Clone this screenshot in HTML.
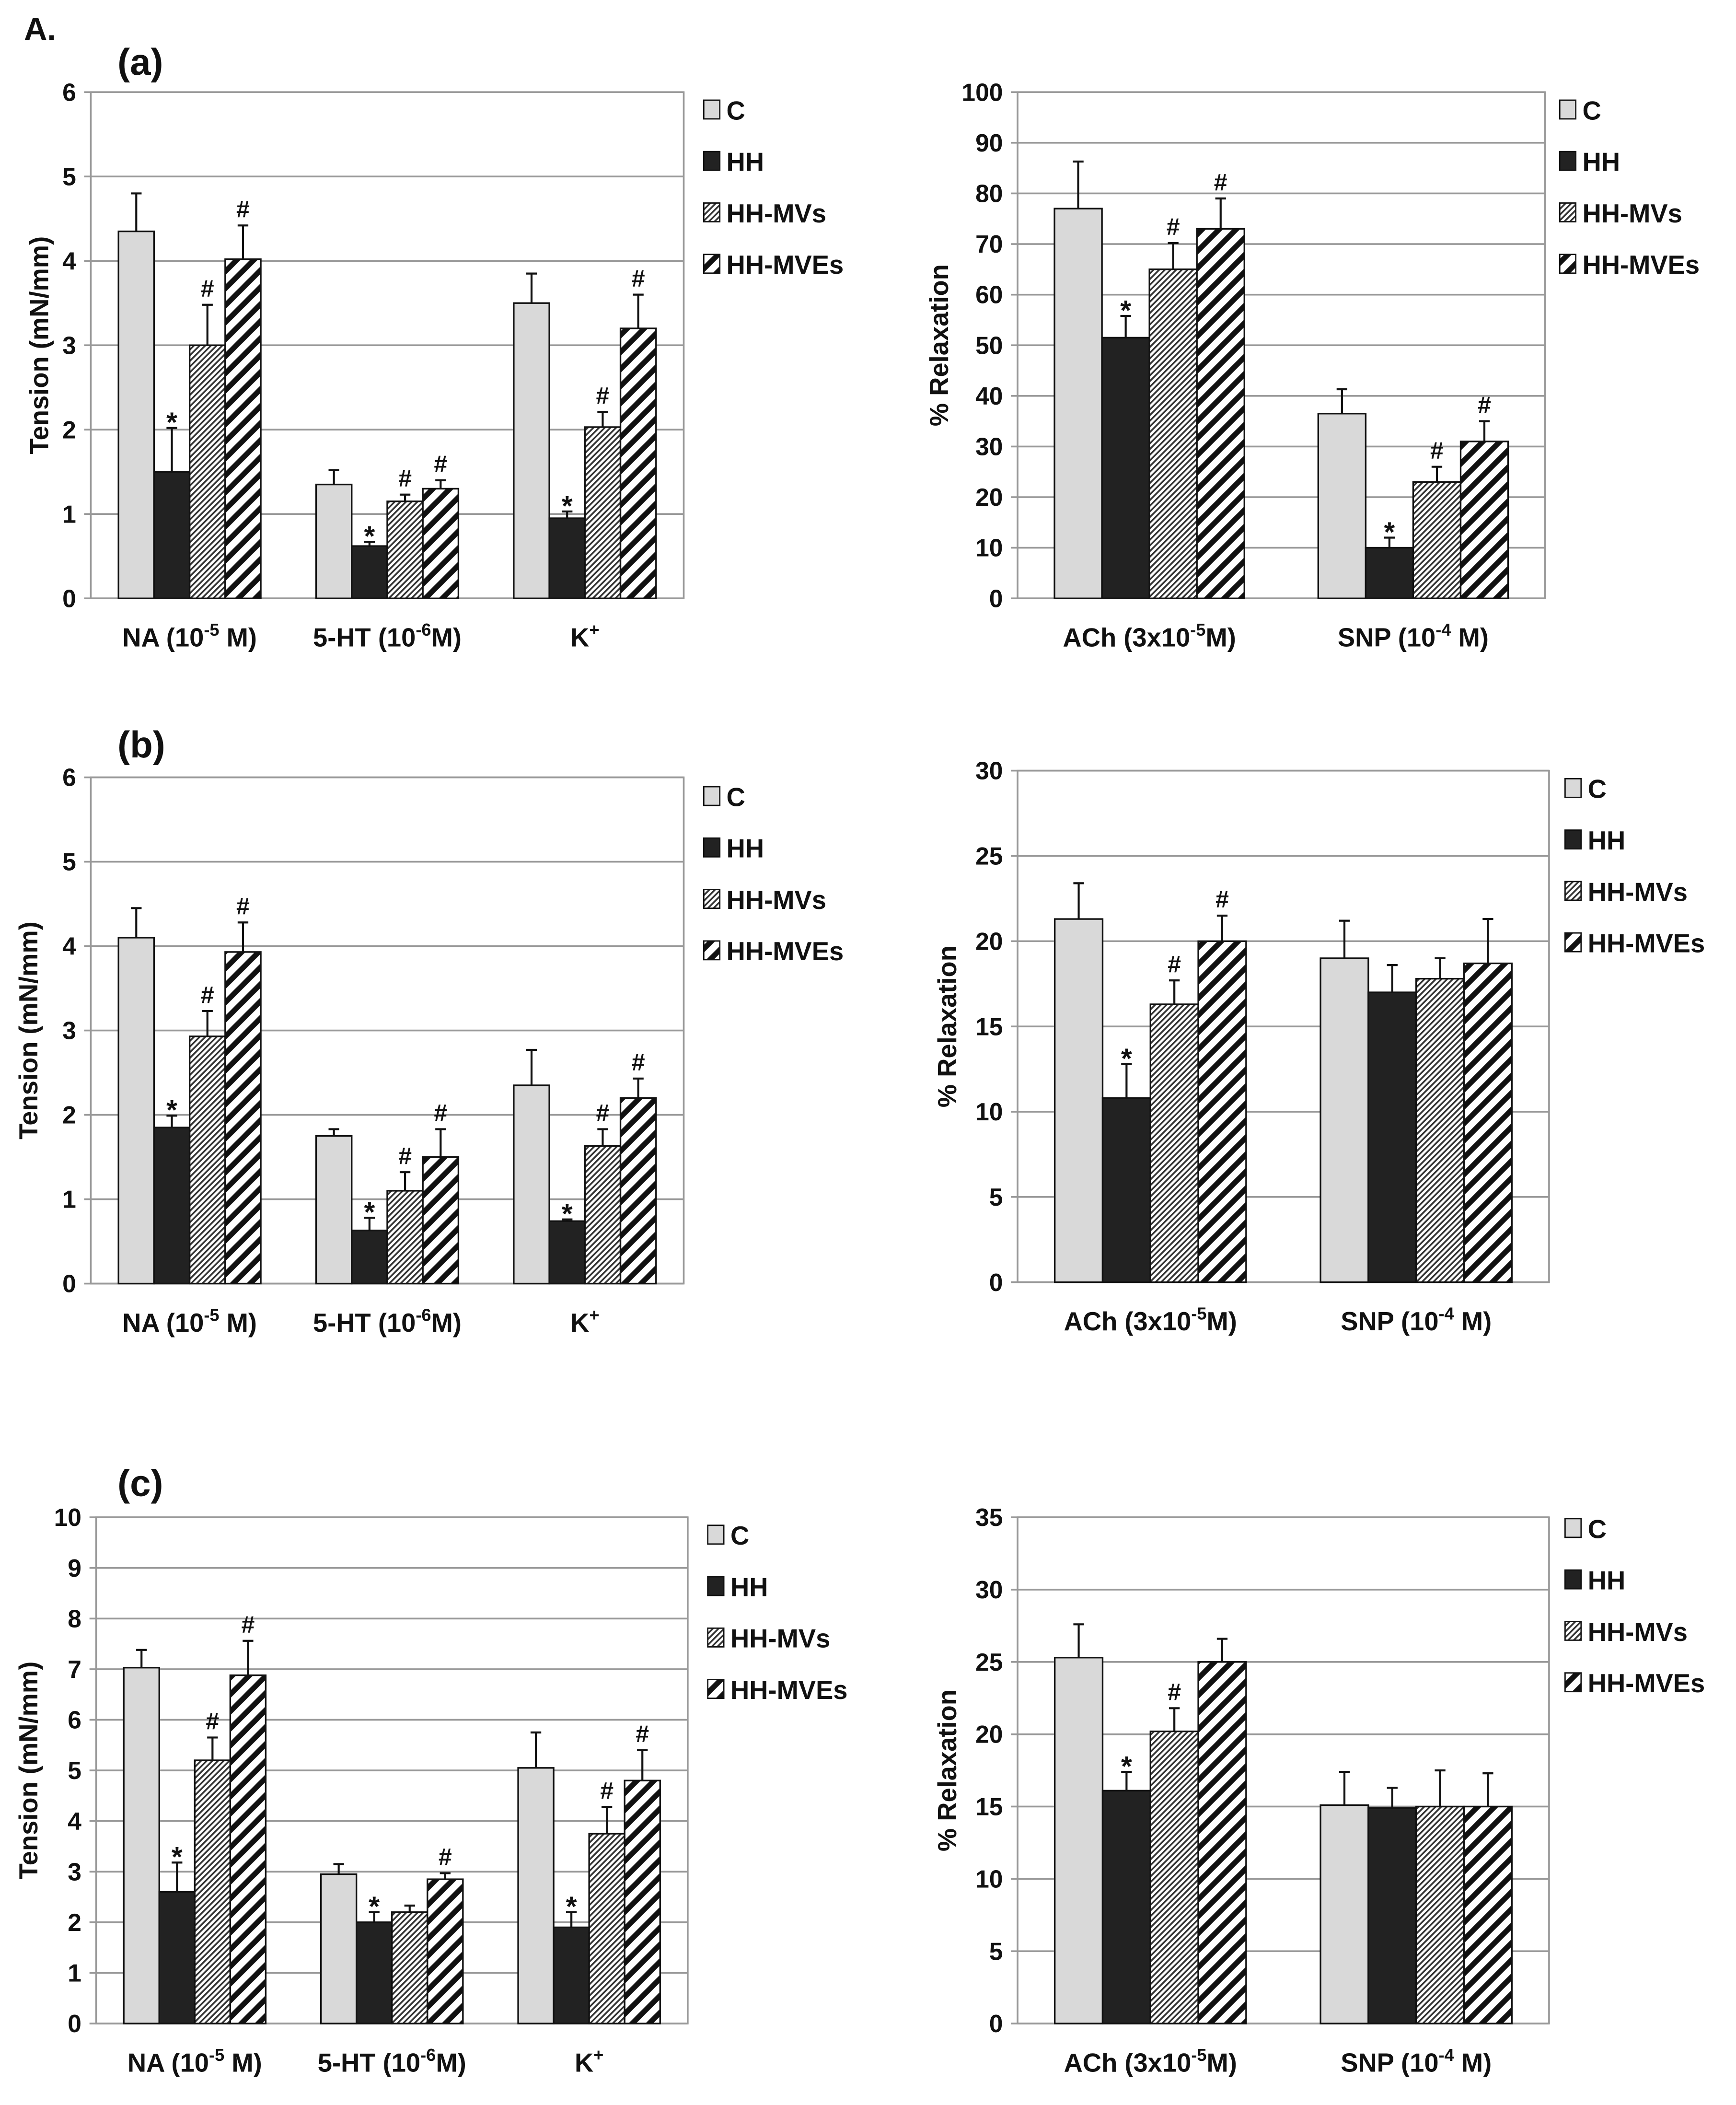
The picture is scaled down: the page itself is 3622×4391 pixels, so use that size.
<!DOCTYPE html>
<html><head><meta charset="utf-8">
<style>
html,body{margin:0;padding:0;background:#fff;}
svg{display:block;}
text{font-family:"Liberation Sans",sans-serif;font-weight:bold;fill:#111;}
</style></head>
<body>
<svg id="fig" xmlns="http://www.w3.org/2000/svg" width="3622" height="4391" viewBox="0 0 1300 1576" preserveAspectRatio="none">
<defs>
<pattern id="fineHatch" patternUnits="userSpaceOnUse" width="3" height="3" patternTransform="rotate(45)">
<rect width="3" height="3" fill="#fff"/><rect width="1.3" height="3" fill="#333"/>
</pattern>
<pattern id="thickHatch" patternUnits="userSpaceOnUse" width="9" height="9" patternTransform="rotate(45)">
<rect width="9" height="9" fill="#fff"/><rect width="4" height="9" fill="#111"/>
</pattern>
</defs>
<text x="18" y="30" font-size="24">A.</text>
<text x="88" y="56" font-size="28">(a)</text>
<text x="88" y="567" font-size="28">(b)</text>
<text x="88" y="1120" font-size="28">(c)</text>
</svg>
<script>
// ---- data ----
const seriesNames = ["C","HH","HH-MVs","HH-MVEs"];
const contractCats = ["NA","5-HT","K+"];
const relaxCats = ["ACh","SNP"];

const aL_C=[4.35,1.35,3.5], aL_Ce=[0.45,0.17,0.35];
const aL_HH=[1.5,0.62,0.95], aL_HHe=[0.52,0.05,0.08];
const aL_MV=[3.0,1.15,2.03], aL_MVe=[0.48,0.08,0.18];
const aL_ME=[4.02,1.3,3.2], aL_MEe=[0.4,0.1,0.4];
const aL_marks=[["","",""],["*","*","*"],["#","#","#"],["#","#","#"]];

const aR_C=[77,36.5], aR_Ce=[9.3,4.8];
const aR_HH=[51.5,10], aR_HHe=[4.3,2];
const aR_MV=[65,23], aR_MVe=[5.2,3];
const aR_ME=[73,31], aR_MEe=[6,4];
const aR_marks=[["",""],["*","*"],["#","#"],["#","#"]];

const bL_C=[4.1,1.75,2.35], bL_Ce=[0.35,0.08,0.42];
const bL_HH=[1.85,0.63,0.74], bL_HHe=[0.14,0.15,0.02];
const bL_MV=[2.93,1.1,1.63], bL_MVe=[0.3,0.22,0.2];
const bL_ME=[3.93,1.5,2.2], bL_MEe=[0.35,0.33,0.23];
const bL_marks=[["","",""],["*","*","*"],["#","#","#"],["#","#","#"]];

const bR_C=[21.3,19], bR_Ce=[2.1,2.2];
const bR_HH=[10.8,17], bR_HHe=[2,1.6];
const bR_MV=[16.3,17.8], bR_MVe=[1.4,1.2];
const bR_ME=[20,18.7], bR_MEe=[1.5,2.6];
const bR_marks=[["",""],["*",""],["#",""],["#",""]];

const cL_C=[7.03,2.95,5.05], cL_Ce=[0.35,0.2,0.7];
const cL_HH=[2.6,2.0,1.9], cL_HHe=[0.58,0.2,0.3];
const cL_MV=[5.2,2.2,3.75], cL_MVe=[0.45,0.13,0.53];
const cL_ME=[6.88,2.85,4.8], cL_MEe=[0.68,0.12,0.6];
const cL_marks=[["","",""],["*","*","*"],["#","","#"],["#","#","#"]];

const cR_C=[25.3,15.1], cR_Ce=[2.3,2.3];
const cR_HH=[16.1,14.9], cR_HHe=[1.3,1.4];
const cR_MV=[20.2,15], cR_MVe=[1.6,2.5];
const cR_ME=[25,15], cR_MEe=[1.6,2.3];
const cR_marks=[["",""],["*",""],["#",""],["",""]];

const tensionTicks6=[0,1,2,3,4,5,6];
const tensionTicks10=[0,1,2,3,4,5,6,7,8,9,10];
const relaxTicks100=[0,10,20,30,40,50,60,70,80,90,100];
const relaxTicks30=[0,5,10,15,20,25,30];
const relaxTicks35=[0,5,10,15,20,25,30,35];

// ---- drawing ----
const NS="http://www.w3.org/2000/svg";
const svg=document.getElementById('fig');
function mk(tag,attrs,parent){const e=document.createElementNS(NS,tag);for(const k in attrs)e.setAttribute(k,attrs[k]);(parent||svg).appendChild(e);return e;}
const fills=["#d9d9d9","#222","url(#fineHatch)","url(#thickHatch)"];

function xLabel(g,cat,cx,y){
  const t=mk('text',{x:cx,y:y,'font-size':19.5,'text-anchor':'middle'},g);
  
  
  const parts={ "NA":["NA (10","-5"," M)"], "5-HT":["5-HT (10","-6","M)"], "K+":["K","+",""],
    "ACh":["ACh (3x10","-5","M)"], "SNP":["SNP (10","-4"," M)"] }[cat];
  const a=mk('tspan',{},t);a.textContent=parts[0];
  const b=mk('tspan',{dy:-8,'font-size':13},t);b.textContent=parts[1];
  const c=mk('tspan',{dy:8},t);c.textContent=parts[2];
}

function chart(id,o){
  const g=mk('g',{});
  
  
  const {x0,x1,y0,y1,ticks,cats,series,errs,marks,title,legX,legY}=o;
  const vmax=ticks[ticks.length-1];
  const Y=v=>y1-(v/vmax)*(y1-y0);
  const catW=(x1-x0)/cats.length;
  const barW=catW*0.72/4;
  const X=(ci,si)=>x0+ci*catW+catW*0.14+si*barW;
  ticks.forEach(t=>{
    const l=mk('line',{x1:x0-5,x2:x1,y1:Y(t),y2:Y(t),stroke:'#999','stroke-width':1.3},g);
    
    
    const tx=mk('text',{x:x0-11,y:Y(t)+6.5,'font-size':18.5,'text-anchor':'end'},g);
    
    
    tx.textContent=t;
  });
  const frame=mk('rect',{x:x0,y:y0,width:x1-x0,height:y1-y0,fill:'none',stroke:'#999','stroke-width':1.3},g);
  
  
  cats.forEach((c,ci)=>{
    series.forEach((s,si)=>{
      const v=s[ci], e=errs[si][ci], bx=X(ci,si);
      const r=mk('rect',{x:bx,y:Y(v),width:barW,height:y1-Y(v),fill:fills[si],stroke:'#111','stroke-width':1.2},g);
      
      
      const cx=bx+barW/2, top=Y(v+e);
      const el=mk('path',{d:`M${cx},${Y(v)} V${top} M${cx-4},${top} H${cx+4}`,stroke:'#111','stroke-width':1.5,fill:'none'},g);
      
      
      const m=marks[si][ci];
      if(m){
        const mt=mk('text',{x:cx,y:top-(m==='*'?-3:6),'font-size':m==='*'?21:18,'text-anchor':'middle'},g);
        
        
        mt.textContent=m;
      }
    });
    xLabel(g,c,x0+ci*catW+catW/2,y1+36);
  });
  const cy=(y0+y1)/2;
  const yt=mk('text',{x:o.titleX,y:cy,'font-size':19.5,'text-anchor':'middle',transform:`rotate(-90 ${o.titleX} ${cy})`},g);
  
  
  yt.textContent=title;
  seriesNames.forEach((n,si)=>{
    const ly=legY+si*38.5;
    const b=mk('rect',{x:legX,y:ly-7,width:12,height:14,fill:fills[si],stroke:'#111','stroke-width':1},g);
    
    
    const t=mk('text',{x:legX+17,y:ly+7.5,'font-size':19.5},g);
    
    
    t.textContent=n;
  });
}

chart('chart-a-tension',{x0:68,x1:512,y0:69,y1:448,ticks:tensionTicks6,cats:contractCats,
  series:[aL_C,aL_HH,aL_MV,aL_ME],errs:[aL_Ce,aL_HHe,aL_MVe,aL_MEe],marks:aL_marks,
  title:'Tension (mN/mm)',titleX:36,legX:527,legY:82});
chart('chart-a-relaxation',{x0:762,x1:1157,y0:69,y1:448,ticks:relaxTicks100,cats:relaxCats,
  series:[aR_C,aR_HH,aR_MV,aR_ME],errs:[aR_Ce,aR_HHe,aR_MVe,aR_MEe],marks:aR_marks,
  title:'% Relaxation',titleX:710,legX:1168,legY:82});
chart('chart-b-tension',{x0:68,x1:512,y0:582,y1:961,ticks:tensionTicks6,cats:contractCats,
  series:[bL_C,bL_HH,bL_MV,bL_ME],errs:[bL_Ce,bL_HHe,bL_MVe,bL_MEe],marks:bL_marks,
  title:'Tension (mN/mm)',titleX:28,legX:527,legY:596});
chart('chart-b-relaxation',{x0:762,x1:1160,y0:577,y1:960,ticks:relaxTicks30,cats:relaxCats,
  series:[bR_C,bR_HH,bR_MV,bR_ME],errs:[bR_Ce,bR_HHe,bR_MVe,bR_MEe],marks:bR_marks,
  title:'% Relaxation',titleX:716,legX:1172,legY:590});
chart('chart-c-tension',{x0:72,x1:515,y0:1136,y1:1515,ticks:tensionTicks10,cats:contractCats,
  series:[cL_C,cL_HH,cL_MV,cL_ME],errs:[cL_Ce,cL_HHe,cL_MVe,cL_MEe],marks:cL_marks,
  title:'Tension (mN/mm)',titleX:28,legX:530,legY:1149});
chart('chart-c-relaxation',{x0:762,x1:1160,y0:1136,y1:1515,ticks:relaxTicks35,cats:relaxCats,
  series:[cR_C,cR_HH,cR_MV,cR_ME],errs:[cR_Ce,cR_HHe,cR_MVe,cR_MEe],marks:cR_marks,
  title:'% Relaxation',titleX:716,legX:1172,legY:1144});
</script>
</body></html>
